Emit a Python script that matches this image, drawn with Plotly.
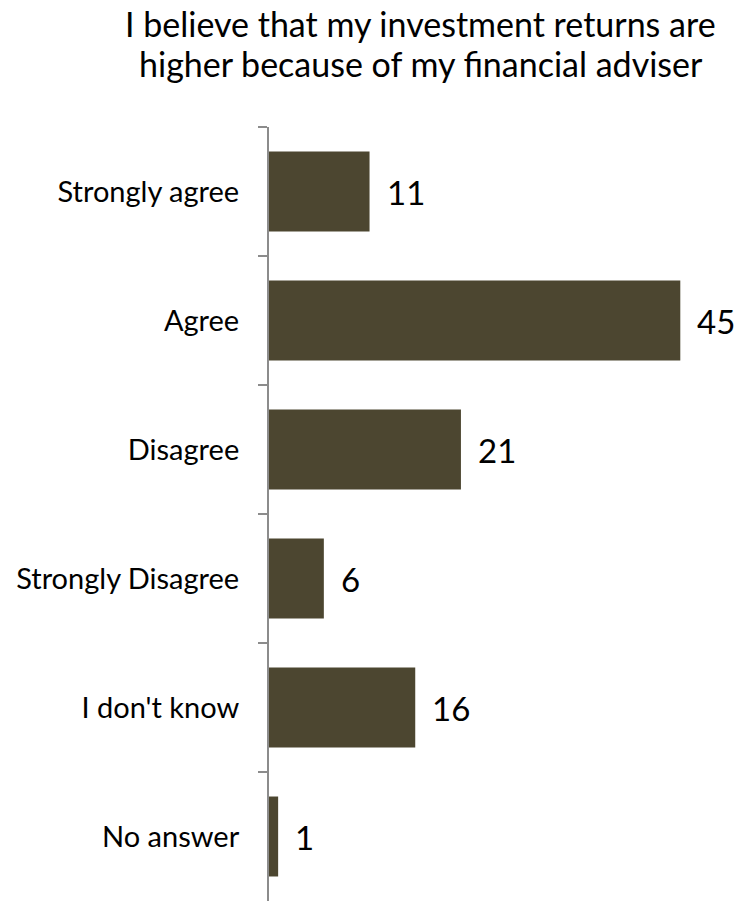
import plotly.graph_objects as go

categories = ["Strongly agree", "Agree", "Disagree", "Strongly Disagree", "I don't know", "No answer"]
values = [11, 45, 21, 6, 16, 1]
title_lines = ["I believe that my investment returns are", "higher because of my financial adviser"]

bar_color = "#4C4630"
font_family = "Lato, 'Open Sans', sans-serif"

fig = go.Figure(
    go.Bar(
        x=values,
        y=categories,
        orientation="h",
        marker=dict(color=bar_color, line=dict(width=0)),
        width=0.62,
        hoverinfo="skip",
    )
)

# value labels just past the bar ends
for cat, val in zip(categories, values):
    fig.add_annotation(
        x=val, y=cat, text=str(val), showarrow=False,
        xanchor="left", yanchor="middle", xshift=15,
        font=dict(family=font_family, size=33, color="#000000"),
    )

# two-line heading above the plot
for yp, line in zip([1.1331, 1.0814], title_lines):
    fig.add_annotation(
        x=0.3326, y=yp, xref="paper", yref="paper", text=line,
        showarrow=False, xanchor="center", yanchor="middle",
        font=dict(family=font_family, size=34, color="#000000"),
    )

fig.update_layout(
    width=740, height=902,
    margin=dict(l=269, r=14, t=127, b=1),
    paper_bgcolor="white", plot_bgcolor="white",
    showlegend=False,
    font=dict(family=font_family, color="#000000"),
    xaxis=dict(range=[0, 50], visible=False, fixedrange=True),
    yaxis=dict(
        categoryorder="array", categoryarray=categories, autorange="reversed",
        showline=True, linecolor="#8C8C8C", linewidth=2,
        ticks="outside", ticklen=9, tickcolor="#8C8C8C", tickwidth=2,
        tickson="boundaries", showgrid=False, zeroline=False,
        tickfont=dict(family=font_family, size=29, color="#000000"),
        ticklabelstandoff=22,
    ),
)

fig.write_html("out.html")
